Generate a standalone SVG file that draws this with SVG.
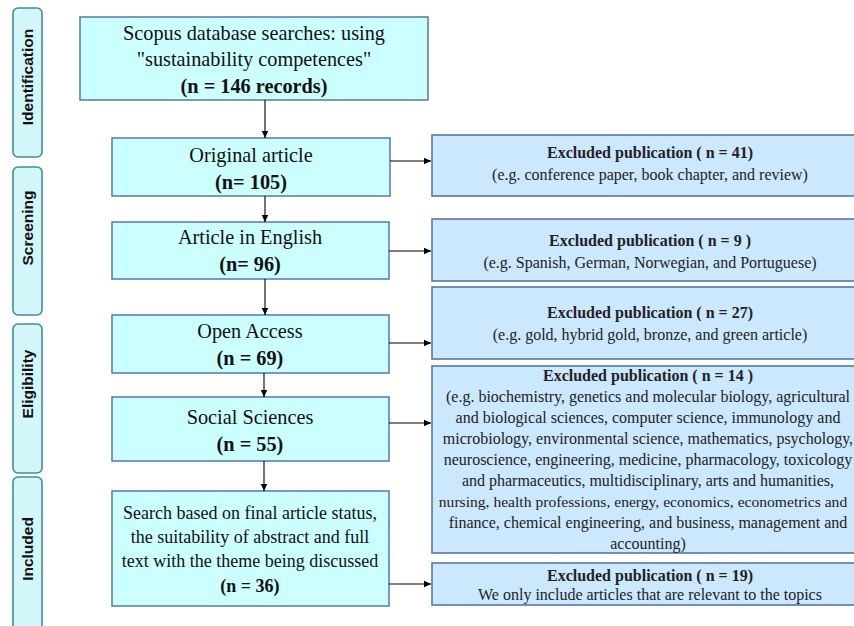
<svg xmlns="http://www.w3.org/2000/svg" width="854" height="626" viewBox="0 0 854 626">
<defs>
<marker id="ah" markerWidth="8" markerHeight="8" refX="7" refY="4" orient="auto" markerUnits="userSpaceOnUse">
<path d="M0,0.8 L7,4 L0,7.2 Z" fill="#000"/>
</marker>
<style>
.stage rect{fill:#d2f6fa;stroke:#3f8e94;stroke-width:1.6}
.stage text{font-family:"Liberation Sans",Arial,sans-serif;font-weight:bold;font-size:15.5px;fill:#111;text-anchor:middle}
.main rect{fill:#ccffff;stroke:#5577b3;stroke-width:1.5}
.main text{font-family:"Liberation Serif","Times New Roman",serif;font-size:20.3px;fill:#111;text-anchor:middle}
.exc rect{fill:#cce8fe;stroke:#4b6fa6;stroke-width:1.5}
.exc text{font-family:"Liberation Serif","Times New Roman",serif;font-size:16px;fill:#222;text-anchor:middle}
.b{font-weight:bold}
.conn line{stroke:#000;stroke-width:1.1;marker-end:url(#ah)}
</style>
</defs>
<rect width="854" height="626" fill="#fff"/>

<g id="stage-identification" class="stage">
<rect x="13" y="8" width="29" height="149" rx="5"/>
<text transform="translate(33,77) rotate(-90)">Identification</text>
</g>
<g id="stage-screening" class="stage">
<rect x="13" y="167" width="29" height="148" rx="5"/>
<text transform="translate(33,228) rotate(-90)">Screening</text>
</g>
<g id="stage-eligibility" class="stage">
<rect x="13" y="324" width="29" height="149" rx="5"/>
<text transform="translate(33,384) rotate(-90)">Eligibility</text>
</g>
<g id="stage-included" class="stage">
<rect x="13" y="477" width="29" height="160" rx="5"/>
<text transform="translate(33,549) rotate(-90)">Included</text>
</g>

<g id="n-scopus" class="main">
<rect x="80" y="17" width="348" height="83"/>
<text x="254" y="40">Scopus database searches: using</text>
<text x="254" y="66">"sustainability competences"</text>
<text x="254" y="93" class="b">(n = 146 records)</text>
</g>
<g id="n-original" class="main">
<rect x="112" y="138" width="278" height="58"/>
<text x="251" y="162">Original article</text>
<text x="251" y="189" class="b">(n= 105)</text>
</g>
<g id="n-english" class="main">
<rect x="112" y="222" width="277" height="57"/>
<text x="250" y="244">Article in English</text>
<text x="250" y="271" class="b">(n= 96)</text>
</g>
<g id="n-open" class="main">
<rect x="112" y="315" width="277" height="58"/>
<text x="250" y="338">Open Access</text>
<text x="250" y="365" class="b">(n = 69)</text>
</g>
<g id="n-social" class="main">
<rect x="112" y="397" width="277" height="64"/>
<text x="250" y="424">Social Sciences</text>
<text x="250" y="451" class="b">(n = 55)</text>
</g>
<g id="n-final" class="main">
<rect x="112" y="491" width="277" height="115"/>
<text x="250" y="519" style="font-size:18px">Search based on final article status,</text>
<text x="250" y="543" style="font-size:18px">the suitability of abstract and full</text>
<text x="250" y="567" style="font-size:18px">text with the theme being discussed</text>
<text x="250" y="592" style="font-size:18px" class="b">(n = 36)</text>
</g>

<g id="x-41" class="exc">
<rect x="432" y="135" width="436" height="61"/>
<text x="650" y="158" class="b">Excluded publication ( n = 41)</text>
<text x="650" y="180">(e.g. conference paper, book chapter, and review)</text>
</g>
<g id="x-9" class="exc">
<rect x="432" y="219" width="436" height="62"/>
<text x="650" y="246" class="b">Excluded publication ( n = 9 )</text>
<text x="650" y="268">(e.g. Spanish, German, Norwegian, and Portuguese)</text>
</g>
<g id="x-27" class="exc">
<rect x="432" y="287" width="436" height="72"/>
<text x="650" y="318" class="b">Excluded publication ( n = 27)</text>
<text x="650" y="340">(e.g. gold, hybrid gold, bronze, and green article)</text>
</g>
<g id="x-14" class="exc">
<rect x="432" y="366" width="436" height="187"/>
<text x="648" y="381" class="b">Excluded publication ( n = 14 )</text>
<text x="648" y="402">(e.g. biochemistry, genetics and molecular biology, agricultural</text>
<text x="648" y="423">and biological sciences, computer science, immunology and</text>
<text x="648" y="444">microbiology, environmental science, mathematics, psychology,</text>
<text x="648" y="465">neuroscience, engineering, medicine, pharmacology, toxicology</text>
<text x="648" y="486">and pharmaceutics, multidisciplinary, arts and humanities,</text>
<text x="643" y="507" style="font-size:15.6px">nursing, health professions, energy, economics, econometrics and</text>
<text x="648" y="528">finance, chemical engineering, and business, management and</text>
<text x="648" y="549">accounting)</text>
</g>
<g id="x-19" class="exc">
<rect x="432" y="563" width="436" height="42"/>
<text x="650" y="581" class="b">Excluded publication ( n = 19)</text>
<text x="650" y="600">We only include articles that are relevant to the topics</text>
</g>

<g id="connectors" class="conn">
<line x1="265" y1="100" x2="265" y2="138"/>
<line x1="265" y1="196" x2="265" y2="222"/>
<line x1="265" y1="279" x2="265" y2="315"/>
<line x1="264" y1="373" x2="264" y2="397"/>
<line x1="264" y1="461" x2="264" y2="491"/>
<line x1="390" y1="161" x2="431" y2="161"/>
<line x1="389" y1="251" x2="431" y2="251"/>
<line x1="389" y1="343" x2="431" y2="343"/>
<line x1="389" y1="423" x2="431" y2="423"/>
<line x1="389" y1="584" x2="431" y2="584"/>
</g>
</svg>
